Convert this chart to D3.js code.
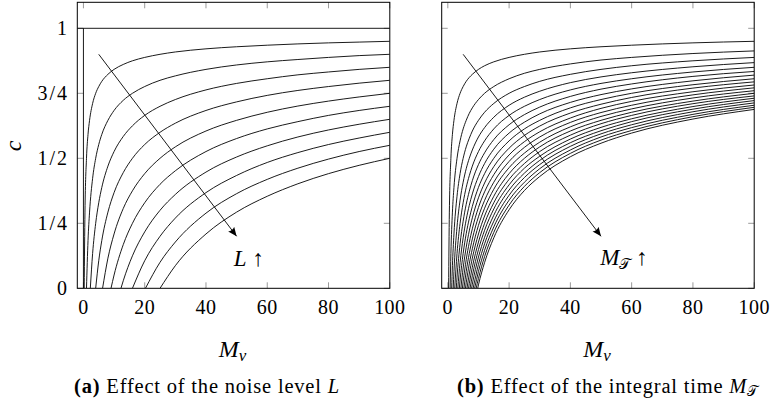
<!DOCTYPE html>
<html><head><meta charset="utf-8">
<script src="https://cdn.jsdelivr.net/npm/d3@7"></script>
<style>body{margin:0;background:#fff}svg{display:block}</style>
</head><body>
<svg id="chart" width="781" height="407"></svg>
<script>
// ---------- data ----------
const xTicks = [0, 20, 40, 60, 80, 100];
const yTicks = [0, 0.25, 0.5, 0.75, 1];
const yTickLabels = ["0", "1/4", "1/2", "3/4", "1"];

// (a) noise level L = 0..10
const plateauX = [-2, 100];        // L = 0 : c = 1
const plateauC = [1, 1];
const jumpX = [0, 0];              // L = 0 : vertical rise at Mv = 0
const jumpC = [0, 1];
const gridA = [0.5, 1, 1.5, 2, 3, 4, 5, 6, 8, 10, 13, 16, 20, 25, 30, 40, 50, 60, 70, 80, 90, 100];
const leftStarts = [0.25, 1, 2.25, 4, 6.25, 9, 12.25, 16, 20.25, 25];
const leftValues = [
  [0.293, 0.5, 0.592, 0.646, 0.711, 0.75, 0.776, 0.796, 0.823, 0.842, 0.861, 0.875, 0.888, 0.9, 0.909, 0.921, 0.929, 0.935, 0.940, 0.944, 0.947, 0.95],
  [0.184, 0.293, 0.423, 0.5, 0.553, 0.592, 0.646, 0.684, 0.723, 0.75, 0.776, 0.8, 0.817, 0.842, 0.859, 0.871, 0.880, 0.888, 0.895, 0.9],
  [0.134, 0.25, 0.329, 0.388, 0.470, 0.526, 0.584, 0.625, 0.665, 0.7, 0.726, 0.763, 0.788, 0.806, 0.821, 0.832, 0.842, 0.85],
  [0.106, 0.184, 0.293, 0.368, 0.445, 0.5, 0.553, 0.6, 0.635, 0.684, 0.717, 0.742, 0.761, 0.776, 0.789, 0.8],
  [0.116, 0.209, 0.307, 0.375, 0.441, 0.5, 0.544, 0.605, 0.646, 0.677, 0.701, 0.720, 0.736, 0.75],
  [0.051, 0.168, 0.25, 0.329, 0.4, 0.452, 0.526, 0.576, 0.613, 0.641, 0.665, 0.684, 0.7],
  [0.029, 0.125, 0.217, 0.3, 0.361, 0.447, 0.505, 0.548, 0.582, 0.609, 0.631, 0.65],
  [0.106, 0.2, 0.270, 0.368, 0.434, 0.484, 0.522, 0.553, 0.578, 0.6],
  [0.1, 0.178, 0.289, 0.364, 0.419, 0.462, 0.497, 0.526, 0.55],
  [0.087, 0.209, 0.293, 0.354, 0.402, 0.441, 0.473, 0.5]
];

// (b) integral time M_T
const gridB = [0.5, 1, 1.5, 2, 3, 4, 5, 6, 7, 8, 10, 12, 15, 20, 25, 30, 40, 50, 60, 80, 100];
const rightStarts = [0.25, 0.75, 1.25, 1.75, 2.25, 2.75, 3.25, 3.75, 4.25, 4.75, 5.25, 5.75, 6.25, 6.75, 7.25, 7.75, 8.25, 8.75, 9.25, 9.75];
const rightValues = [
  [0.293, 0.5, 0.592, 0.646, 0.711, 0.75, 0.776, 0.796, 0.811, 0.823, 0.842, 0.856, 0.871, 0.888, 0.9, 0.909, 0.921, 0.929, 0.935, 0.944, 0.95],
  [0.134, 0.293, 0.388, 0.5, 0.567, 0.613, 0.646, 0.673, 0.694, 0.726, 0.75, 0.776, 0.806, 0.827, 0.842, 0.863, 0.878, 0.888, 0.903, 0.913],
  [0.087, 0.209, 0.354, 0.441, 0.5, 0.544, 0.577, 0.605, 0.646, 0.677, 0.711, 0.75, 0.776, 0.796, 0.823, 0.842, 0.856, 0.875, 0.888],
  [0.065, 0.236, 0.339, 0.408, 0.46, 0.5, 0.532, 0.582, 0.618, 0.658, 0.704, 0.735, 0.758, 0.791, 0.813, 0.829, 0.852, 0.868],
  [0.134, 0.25, 0.329, 0.388, 0.433, 0.470, 0.526, 0.567, 0.613, 0.665, 0.7, 0.726, 0.763, 0.788, 0.806, 0.832, 0.85],
  [0.043, 0.171, 0.258, 0.323, 0.373, 0.414, 0.476, 0.521, 0.572, 0.629, 0.668, 0.697, 0.738, 0.766, 0.786, 0.815, 0.834],
  [0.099, 0.194, 0.264, 0.319, 0.363, 0.43, 0.48, 0.535, 0.597, 0.639, 0.671, 0.715, 0.745, 0.767, 0.798, 0.82],
  [0.032, 0.134, 0.21, 0.268, 0.315, 0.388, 0.441, 0.5, 0.567, 0.613, 0.646, 0.694, 0.726, 0.75, 0.783, 0.806],
  [0.078, 0.158, 0.221, 0.271, 0.348, 0.405, 0.468, 0.539, 0.588, 0.624, 0.674, 0.708, 0.734, 0.770, 0.794],
  [0.025, 0.11, 0.176, 0.229, 0.311, 0.371, 0.437, 0.513, 0.564, 0.602, 0.655, 0.692, 0.719, 0.756, 0.782],
  [0.065, 0.134, 0.19, 0.275, 0.338, 0.408, 0.488, 0.542, 0.582, 0.638, 0.676, 0.704, 0.744, 0.771],
  [0.021, 0.094, 0.152, 0.242, 0.308, 0.381, 0.464, 0.52, 0.562, 0.621, 0.661, 0.69, 0.732, 0.76],
  [0.055, 0.116, 0.209, 0.278, 0.354, 0.441, 0.5, 0.544, 0.605, 0.646, 0.677, 0.72, 0.75],
  [0.018, 0.081, 0.178, 0.25, 0.329, 0.419, 0.48, 0.526, 0.589, 0.633, 0.665, 0.71, 0.74],
  [0.048, 0.149, 0.223, 0.305, 0.398, 0.462, 0.508, 0.574, 0.619, 0.652, 0.699, 0.731],
  [0.016, 0.12, 0.196, 0.281, 0.378, 0.443, 0.492, 0.56, 0.606, 0.641, 0.689, 0.722],
  [0.092, 0.171, 0.258, 0.358, 0.426, 0.476, 0.546, 0.594, 0.629, 0.679, 0.713],
  [0.065, 0.146, 0.236, 0.339, 0.408, 0.46, 0.532, 0.582, 0.618, 0.669, 0.704],
  [0.038, 0.122, 0.215, 0.32, 0.392, 0.445, 0.519, 0.57, 0.607, 0.66, 0.696],
  [0.013, 0.099, 0.194, 0.302, 0.376, 0.43, 0.506, 0.558, 0.597, 0.651, 0.688]
];

// annotation arrows (data coords)
const arrowX = [5, 50];
const arrowC = [0.9, 0.2];

// ---------- drawing ----------
const FONT = '"Liberation Serif", monospace';
const svg = d3.select("#chart");
const defs = svg.append("defs");
defs.append("marker").attr("id", "ah").attr("viewBox", "0 0 10 10")
  .attr("refX", 10).attr("refY", 5).attr("markerWidth", 9).attr("markerHeight", 9)
  .attr("markerUnits", "userSpaceOnUse").attr("orient", "auto")
  .append("path").attr("d", "M0,0.8 L10,5 L0,9.2 Q2.5,5 0,0.8 Z").attr("fill", "#000");

function txt(sel) { return sel.append("text").style("font-family", FONT); }

function curvePoints(grid, start, vals) {
  const xs = grid.slice(grid.length - vals.length);
  return [[start, 0]].concat(xs.map((x, i) => [x, vals[i]]));
}

function panel(id, left, starts, values, grid, withYLabels, labelNodes) {
  const x = d3.scaleLinear().domain([-2, 100]).range([left, left + 312.5]);
  const y = d3.scaleLinear().domain([0, 1.1]).range([288.3, 2.3]);
  const g = svg.append("g");
  defs.append("clipPath").attr("id", "clip" + id).append("rect")
    .attr("x", x(-2)).attr("y", y(1.1)).attr("width", x(100) - x(-2)).attr("height", y(0) - y(1.1));

  const tk = g.append("g").attr("stroke", "#9a9a9a").attr("stroke-width", 1);
  xTicks.forEach(t => {
    tk.append("line").attr("x1", x(t)).attr("x2", x(t)).attr("y1", y(0)).attr("y2", y(0) - 6);
    tk.append("line").attr("x1", x(t)).attr("x2", x(t)).attr("y1", y(1.1)).attr("y2", y(1.1) + 6);
  });
  yTicks.forEach(t => {
    tk.append("line").attr("x1", x(-2)).attr("x2", x(-2) + 6).attr("y1", y(t)).attr("y2", y(t));
    tk.append("line").attr("x1", x(100)).attr("x2", x(100) - 6).attr("y1", y(t)).attr("y2", y(t));
  });

  const line = d3.line().x(d => x(d[0])).y(d => y(d[1])).curve(d3.curveMonotoneX);
  const lin = d3.line().x(d => x(d[0])).y(d => y(d[1]));
  const cg = g.append("g").attr("clip-path", `url(#clip${id})`)
    .attr("fill", "none").attr("stroke", "#000").attr("stroke-width", 0.9);
  if (withYLabels) {
    cg.append("path").attr("d", lin(plateauX.map((v, i) => [v, plateauC[i]])));
    cg.append("path").attr("d", lin(jumpX.map((v, i) => [v, jumpC[i]])));
  }
  values.forEach((vals, i) => {
    cg.append("path").attr("d", line(curvePoints(grid, starts[i], vals)));
  });

  g.append("rect").attr("x", x(-2)).attr("y", y(1.1)).attr("width", x(100) - x(-2))
    .attr("height", y(0) - y(1.1)).attr("fill", "none").attr("stroke", "#000").attr("stroke-width", 1);

  g.append("line").attr("x1", x(arrowX[0])).attr("y1", y(arrowC[0]))
    .attr("x2", x(arrowX[1])).attr("y2", y(arrowC[1]))
    .attr("stroke", "#000").attr("stroke-width", 0.9).attr("marker-end", "url(#ah)");

  xTicks.forEach(t => {
    txt(g).attr("x", x(t)).attr("y", 313.5).attr("text-anchor", "middle")
      .attr("font-size", 20).attr("letter-spacing", 0.4).text(t);
  });
  if (withYLabels) {
    yTicks.forEach((t, i) => {
      txt(g).attr("x", 69).attr("y", y(t) + 6.5).attr("text-anchor", "end")
        .attr("font-size", 20).attr("letter-spacing", 2).text(yTickLabels[i]);
    });
  }
  const xt = txt(g).attr("x", (x(0) + x(100)) / 2 - 4).attr("y", 357).attr("text-anchor", "middle")
    .attr("font-size", 24);
  xt.append("tspan").attr("font-style", "italic").text("M");
  xt.append("tspan").attr("font-style", "italic").attr("font-size", 17).attr("dy", 4).text("v");

  labelNodes(g, x, y);
}

panel("a", 77.3, leftStarts, leftValues, gridA, true, (g, x, y) => {
  const t = txt(g).attr("x", x(54)).attr("y", 266).attr("text-anchor", "middle").attr("font-size", 23);
  t.append("tspan").attr("font-style", "italic").text("L");
  t.append("tspan").text(" \u2191");
});
panel("b", 441.7, rightStarts, rightValues, gridB, false, (g, x, y) => {
  const t = txt(g).attr("x", x(57.5)).attr("y", 265).attr("text-anchor", "middle").attr("font-size", 23);
  t.append("tspan").attr("font-style", "italic").text("M");
  t.append("tspan").attr("font-size", 15).attr("dy", 4).text("\u{1D4AF}");
  t.append("tspan").attr("dy", -4).text(" \u2191");
});

txt(svg).attr("transform", "translate(21,146) rotate(-90)").attr("text-anchor", "middle")
  .attr("font-size", 24).attr("font-style", "italic").text("c");

// captions, fitted to the reference's text extents
function caption(cx, target, parts) {
  const t = txt(svg).attr("x", cx).attr("y", 393).attr("text-anchor", "middle").attr("font-size", 20.5);
  parts.forEach(p => {
    const s = t.append("tspan").text(p.s);
    if (p.b) s.attr("font-weight", "bold");
    if (p.i) s.attr("font-style", "italic");
    if (p.sub) s.attr("font-size", 14).attr("dy", 3);
  });
  const w = t.node().getComputedTextLength();
  const n = parts.reduce((a, p) => a + [...p.s].length, 0);
  if (w < target) t.attr("letter-spacing", Math.min(0.8, (target - w) / n).toFixed(2));
}
caption(207, 291, [{s: "(a)", b: true}, {s: " Effect of the noise level "}, {s: "L", i: true}]);
caption(608, 336, [{s: "(b)", b: true}, {s: " Effect of the integral time "}, {s: "M", i: true}, {s: "\u{1D4AF}", sub: true}]);
</script>
</body></html>
